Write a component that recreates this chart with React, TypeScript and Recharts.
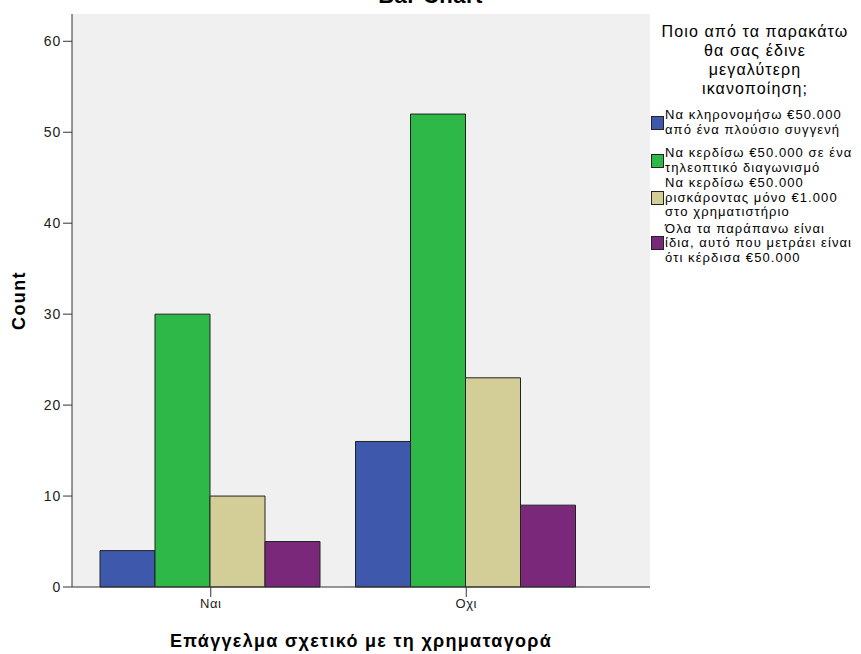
import React from 'react';
import { BarChart, Bar, XAxis, YAxis, CartesianGrid, Legend } from 'recharts';

// Κατηγορίες και τιμές (Count)
const categories = ['Ναι', 'Οχι'];
const inheritValues = [4, 16];
const tvContestValues = [30, 52];
const stockValues = [10, 23];
const sameValues = [5, 9];
const yTicks = [0, 10, 20, 30, 40, 50, 60];

const legendTitle = ['Ποιο από τα παρακάτω', 'θα σας έδινε', 'μεγαλύτερη', 'ικανοποίηση;'];
const seriesNames = [
  'Να κληρονομήσω €50.000\nαπό ένα πλούσιο συγγενή',
  'Να κερδίσω €50.000 σε ένα\nτηλεοπτικό διαγωνισμό',
  'Να κερδίσω €50.000\nρισκάροντας μόνο €1.000\nστο χρηματιστήριο',
  'Όλα τα παράπανω είναι\nίδια, αυτό που μετράει είναι\nότι κέρδισα €50.000',
];

const COLORS = ['#3E58AC', '#2EB848', '#D3CE97', '#7A287A'];
const FONT = '"Liberation Sans", Arial, sans-serif';

const data = categories.map((name, i) => ({
  name,
  s0: inheritValues[i],
  s1: tvContestValues[i],
  s2: stockValues[i],
  s3: sameValues[i],
}));

// κενά ανάμεσα στα στοιχεία του υπομνήματος
const itemGaps = [0, 9, 1, 2];

const renderLegend = (props: any) => {
  const payload = [...(props.payload || [])].sort((a: any, b: any) =>
    String(a.dataKey).localeCompare(String(b.dataKey))
  );
  return (
    <div style={{ fontFamily: FONT, color: '#000' }}>
      <div style={{ textAlign: 'center', fontSize: 16, lineHeight: '19px', letterSpacing: 1.1, width: 210 }}>
        {legendTitle.map((l) => <div key={l}>{l}</div>)}
      </div>
      <div style={{ marginTop: 10 }}>
        {payload.map((p: any, i: number) => (
          <div key={i} style={{ display: 'flex', alignItems: 'center', marginTop: itemGaps[i] }}>
            <div style={{ width: 11, height: 12, background: p.color, border: '1px solid #222', marginLeft: 1, marginRight: 1, flexShrink: 0 }} />
            <div style={{ fontSize: 13, lineHeight: '14.5px', letterSpacing: 1.1, whiteSpace: 'nowrap' }}>
              {String(p.value).split('\n').map((l) => <div key={l}>{l}</div>)}
            </div>
          </div>
        ))}
      </div>
    </div>
  );
};

export default function App() {
  return (
    <div style={{ position: 'absolute', left: 0, top: 0, width: 861, height: 654, overflow: 'hidden', background: '#fff' }}>
      <div style={{ position: 'absolute', top: -15, left: 0, width: 861, textAlign: 'center', fontFamily: FONT, fontWeight: 'bold', fontSize: 22, lineHeight: '22px', letterSpacing: 0.5 }}>
        Bar Chart
      </div>
      <BarChart
        width={861}
        height={654}
        data={data}
        margin={{ top: 14, right: 211, bottom: 0, left: 0 }}
        barGap={0}
        barCategoryGap={17}
        style={{ fontFamily: FONT }}
      >
        <CartesianGrid fill="#F0F0F0" horizontal={false} vertical={false} />
        <XAxis
          dataKey="name"
          height={67}
          padding={{ left: 11, right: 56 }}
          tickSize={10}
          axisLine={{ stroke: '#333' }}
          tickLine={{ stroke: '#333' }}
          tick={{ fill: '#222', fontSize: 13, letterSpacing: 0.5 }}
          label={{ value: 'Επάγγελμα σχετικό με τη χρηματαγορά', position: 'insideBottom', offset: 7, fill: '#000', fontSize: 18, fontWeight: 'bold', letterSpacing: 1.3 }}
        />
        <XAxis xAxisId="top" dataKey="name" orientation="top" height={0} tick={false} tickLine={false} axisLine={{ stroke: '#888' }} />
        <YAxis
          width={72}
          domain={[0, 63]}
          ticks={yTicks}
          tickSize={9}
          axisLine={{ stroke: '#333' }}
          tickLine={{ stroke: '#333' }}
          tick={{ fill: '#222', fontSize: 14, letterSpacing: 0.8 }}
          label={({ viewBox }: any) => (
            <text
              x={19}
              y={viewBox.y + viewBox.height / 2}
              transform={`rotate(-90, 19, ${viewBox.y + viewBox.height / 2})`}
              textAnchor="middle"
              dominantBaseline="central"
              fontSize={18}
              fontWeight="bold"
              letterSpacing={1.4}
              fill="#000"
            >
              Count
            </text>
          )}
        />
        <YAxis yAxisId="right" orientation="right" width={0} tick={false} tickLine={false} axisLine={{ stroke: '#888' }} />
        <Legend
          layout="vertical"
          align="center"
          verticalAlign="middle"
          content={renderLegend}
          wrapperStyle={{ left: 650, top: 22, width: 211, height: 260 }}
        />
        {seriesNames.map((n, i) => (
          <Bar key={i} dataKey={`s${i}`} name={n} fill={COLORS[i]} stroke="#222" strokeWidth={1} isAnimationActive={false} />
        ))}
      </BarChart>
    </div>
  );
}
